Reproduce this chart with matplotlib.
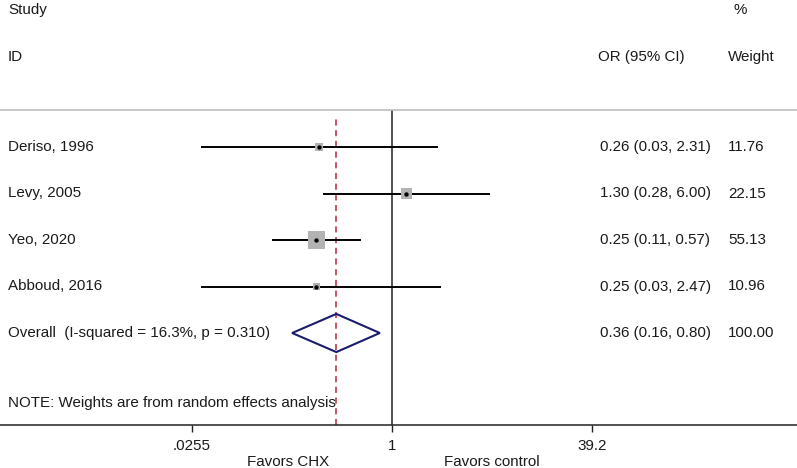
import numpy as np
import matplotlib
matplotlib.use("Agg")
import matplotlib.pyplot as plt
from matplotlib.transforms import blended_transform_factory

# ---- data ----
studies = ["Deriso, 1996", "Levy, 2005", "Yeo, 2020", "Abboud, 2016"]
odds_ratio = [0.26, 1.30, 0.25, 0.25]
ci_low = [0.03, 0.28, 0.11, 0.03]
ci_high = [2.31, 6.00, 0.57, 2.47]
weights = [11.76, 22.15, 55.13, 10.96]
overall_label = "Overall  (I-squared = 16.3%, p = 0.310)"
overall_or = 0.36
overall_low = 0.16
overall_high = 0.80
overall_weight = 100.00
tick_values = [0.0255, 1, 39.2]
tick_labels = [".0255", "1", "39.2"]
note = "NOTE: Weights are from random effects analysis"

plt.rcParams['font.family'] = ['Liberation Sans', 'DejaVu Sans']
FS = 10.9
TXT = "#1a1a1a"

W, H = 797, 468
fig = plt.figure(figsize=(W / 100, H / 100), dpi=100)

# layout in pixels
axis_y = 425
top_y = 110
row0_y = 147
row_step = 46.5
x_one = 392
px_per_ln = 54.5

ax = fig.add_axes([0, (H - axis_y) / H, 1, (axis_y - top_y) / H])
ax.set_xscale("log")
ax.set_xlim(np.exp((0 - x_one) / px_per_ln), np.exp((W - x_one) / px_per_ln))
ax.set_ylim((axis_y - row0_y) / row_step, (top_y - row0_y) / row_step)

rows = np.arange(len(studies))
overall_row = len(studies)
note_row = overall_row + 1.5

# reference lines
ax.axvline(1, color="#222222", lw=1.1, zorder=1)
ax.axvline(overall_or, ymin=0, ymax=1 - 5 / (axis_y - top_y), color="#b5283a",
           lw=1.1, ls=(0, (4, 3)), zorder=1)

# CIs
ax.hlines(rows, ci_low, ci_high, color="black", lw=1.4, zorder=2)
sides_px = 2.35 * np.sqrt(np.array(weights))
sizes = (sides_px * 0.72) ** 2
ax.scatter(odds_ratio, rows, s=sizes, marker="s", color="#b3b3b3", lw=0, zorder=3)
ax.scatter(odds_ratio, rows, s=10, marker="o", color="black", lw=0, zorder=4)

# diamond
hh = 0.41
ax.fill([overall_low, overall_or, overall_high, overall_or],
        [overall_row, overall_row - hh, overall_row, overall_row + hh],
        facecolor="none", edgecolor="#1c1c6e", lw=1.5, zorder=3)

# axes styling
for s in ["left", "right"]:
    ax.spines[s].set_visible(False)
ax.spines["top"].set_color("#bdbdbd")
ax.spines["top"].set_linewidth(1.2)
ax.spines["bottom"].set_color("#222222")
ax.spines["bottom"].set_linewidth(1.1)
ax.set_yticks([])
ax.set_xticks(tick_values)
ax.set_xticklabels(tick_labels)
ax.xaxis.set_minor_locator(matplotlib.ticker.NullLocator())
ax.tick_params(axis="x", direction="out", length=5, width=1.0, color="#222222",
               labelsize=FS, labelcolor=TXT, pad=5)

# text columns
tr = blended_transform_factory(fig.transFigure, ax.transData)
x_study = 8 / W
x_ci = 600 / W
x_wt = 728 / W
for r, name, o, l, h, w in zip(rows, studies, odds_ratio, ci_low, ci_high, weights):
    ax.text(x_study, r, name, transform=tr, ha="left", va="center", fontsize=FS, color=TXT)
    ax.text(x_ci, r, f"{o:.2f} ({l:.2f}, {h:.2f})", transform=tr, ha="left", va="center",
            fontsize=FS, color=TXT)
    ax.text(x_wt, r, f"{w:.2f}", transform=tr, ha="left", va="center", fontsize=FS, color=TXT)
ax.text(x_study, overall_row, overall_label, transform=tr, ha="left", va="center", fontsize=FS, color=TXT)
ax.text(x_ci, overall_row, f"{overall_or:.2f} ({overall_low:.2f}, {overall_high:.2f})",
        transform=tr, ha="left", va="center", fontsize=FS, color=TXT)
ax.text(x_wt, overall_row, f"{overall_weight:.2f}", transform=tr, ha="left", va="center",
        fontsize=FS, color=TXT)
ax.text(x_study, note_row, note, transform=tr, ha="left", va="center", fontsize=FS, color=TXT)

# headers
fig.text(x_study, 1 - 10 / H, "Study", ha="left", va="center", fontsize=FS, color=TXT)
fig.text(x_study, 1 - 57 / H, "ID", ha="left", va="center", fontsize=FS, color=TXT)
fig.text(x_ci - 2 / W, 1 - 57 / H, "OR (95% CI)", ha="left", va="center", fontsize=FS, color=TXT)
fig.text(x_wt + 6 / W, 1 - 10 / H, "%", ha="left", va="center", fontsize=FS, color=TXT)
fig.text(x_wt, 1 - 57 / H, "Weight", ha="left", va="center", fontsize=FS, color=TXT)

# favours labels
fig.text(288 / W, 1 - 462 / H, "Favors CHX", ha="center", va="center", fontsize=FS, color=TXT)
fig.text(492 / W, 1 - 462 / H, "Favors control", ha="center", va="center", fontsize=FS, color=TXT)

fig.savefig("out.png", dpi=100)
